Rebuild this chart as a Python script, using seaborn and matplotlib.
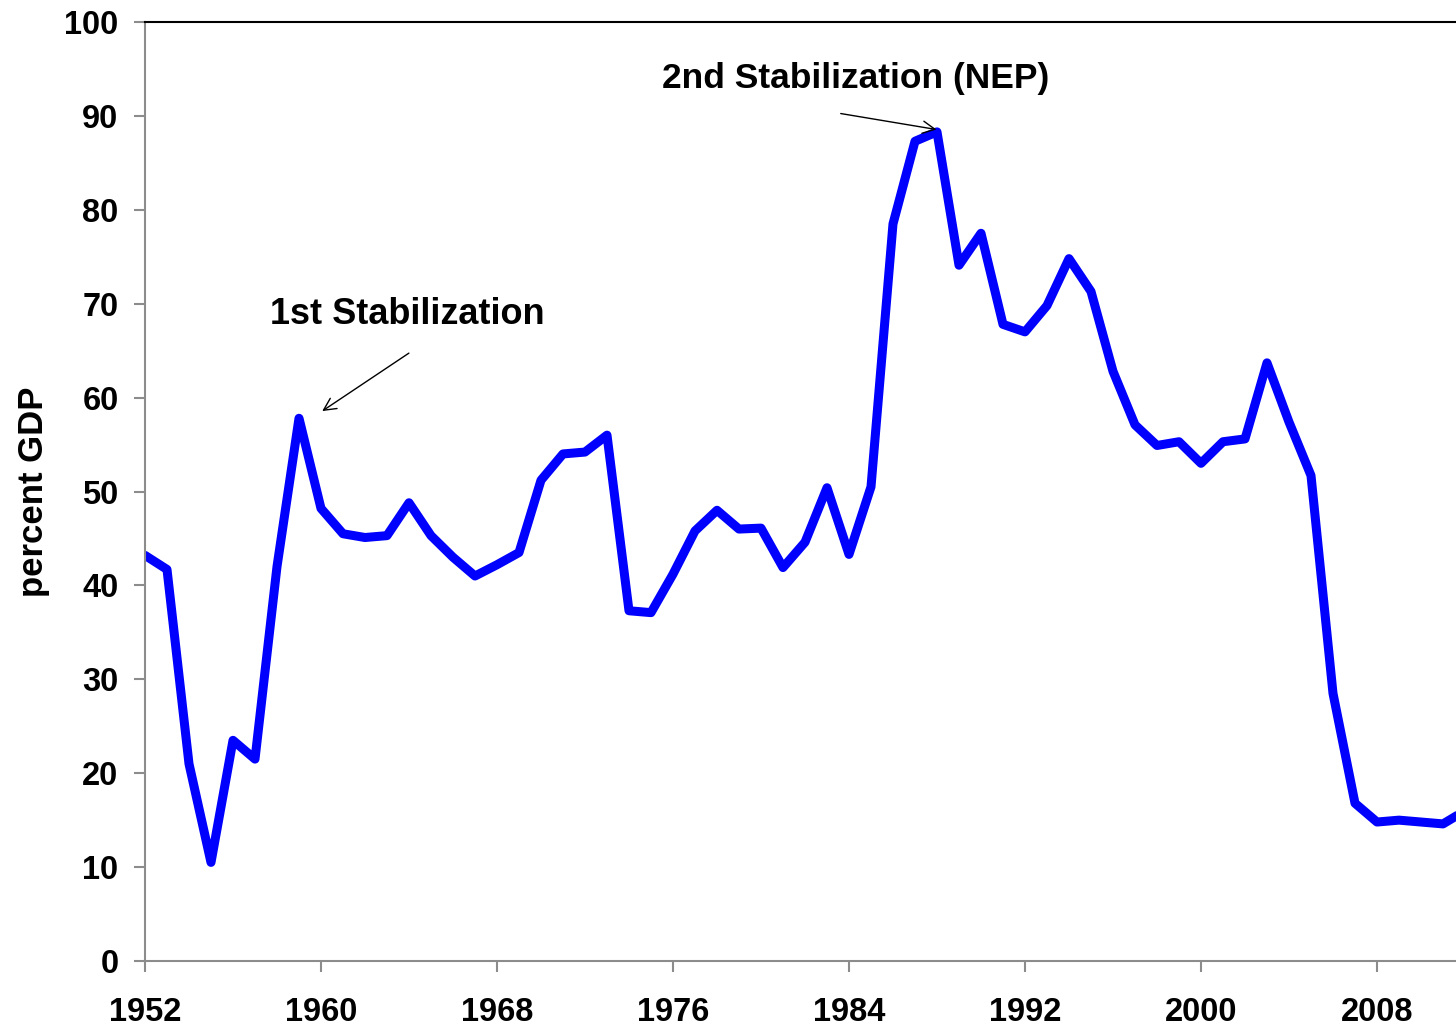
import numpy as np
import pandas as pd
import matplotlib
matplotlib.use("Agg")
import matplotlib.pyplot as plt
import seaborn as sns

years = list(range(1952, 2013))
values = [43.2, 41.7, 21.0, 10.5, 23.5, 21.5, 42.0, 57.8, 48.2, 45.5,
          45.1, 45.3, 48.8, 45.3, 43.0, 41.0, 42.2, 43.5, 51.2, 54.0,
          54.2, 56.0, 37.3, 37.1, 41.2, 45.8, 48.0, 46.0, 46.1, 41.9,
          44.6, 50.4, 43.3, 50.5, 78.5, 87.3, 88.3, 74.1, 77.5, 67.8,
          67.0, 69.8, 74.8, 71.3, 62.8, 57.1, 54.9, 55.3, 53.0, 55.3,
          55.6, 63.7, 57.4, 51.7, 28.5, 16.8, 14.8, 15.0, 14.8, 14.6,
          16.0]
xticks = list(range(1952, 2012, 8))
yticks = list(range(0, 101, 10))

df = pd.DataFrame({"year": years, "value": values})

sns.set_style("white")
plt.rcParams["font.family"] = ["Liberation Sans", "DejaVu Sans"]
plt.rcParams["font.weight"] = "bold"
plt.rcParams["text.color"] = "black"
plt.rcParams["axes.labelcolor"] = "black"
plt.rcParams["xtick.color"] = "black"
plt.rcParams["ytick.color"] = "black"

fig = plt.figure(figsize=(14.56, 10.28), dpi=100)
ax = fig.add_axes([145 / 1456, 1 - 961 / 1028, 1 - 145 / 1456, (961 - 22) / 1028])

sns.lineplot(data=df, x="year", y="value", ax=ax, color="#0000FF", linewidth=6.5)
for ln in ax.lines:
    ln.set_solid_joinstyle("round")

ax.set_xlim(1952, 1952 + (1456 - 145) / 22)
ax.set_ylim(0, 100)
ax.set_xticks(xticks)
ax.set_yticks(yticks)
ax.set_xticklabels([str(t) for t in xticks], fontsize=23.5, fontweight="bold", color="black")
ax.set_yticklabels([str(t) for t in yticks], fontsize=23.5, fontweight="bold", color="black")
ax.set_xlabel("")
ax.set_ylabel("percent GDP", fontsize=25, fontweight="bold", labelpad=10, color="black")

ax.tick_params(axis="x", direction="out", length=8, width=1.5, color="#8c8c8c",
               pad=18, bottom=True)
ax.tick_params(axis="y", direction="out", length=8, width=1.5, color="#8c8c8c",
               pad=11, left=True)

for side in ["left", "bottom"]:
    ax.spines[side].set_color("#8c8c8c")
    ax.spines[side].set_linewidth(1.5)
ax.spines["top"].set_color("black")
ax.spines["top"].set_linewidth(1.5)
ax.spines["right"].set_visible(False)

ax.text(1957.7, 68.8, "1st Stabilization", fontsize=26, fontweight="bold",
        va="center", ha="left", color="black")
ax.annotate("", xy=(1959.95, 58.4), xytext=(1964.1, 64.9),
            arrowprops=dict(arrowstyle="->", color="black", lw=1, mutation_scale=22))

ax.text(1975.5, 94.0, "2nd Stabilization (NEP)", fontsize=25.5, fontweight="bold",
        va="center", ha="left", color="black")
ax.annotate("", xy=(1988.1, 88.5), xytext=(1983.5, 90.3),
            arrowprops=dict(arrowstyle="->", color="black", lw=1, mutation_scale=22))

fig.savefig("out.png", dpi=100)
